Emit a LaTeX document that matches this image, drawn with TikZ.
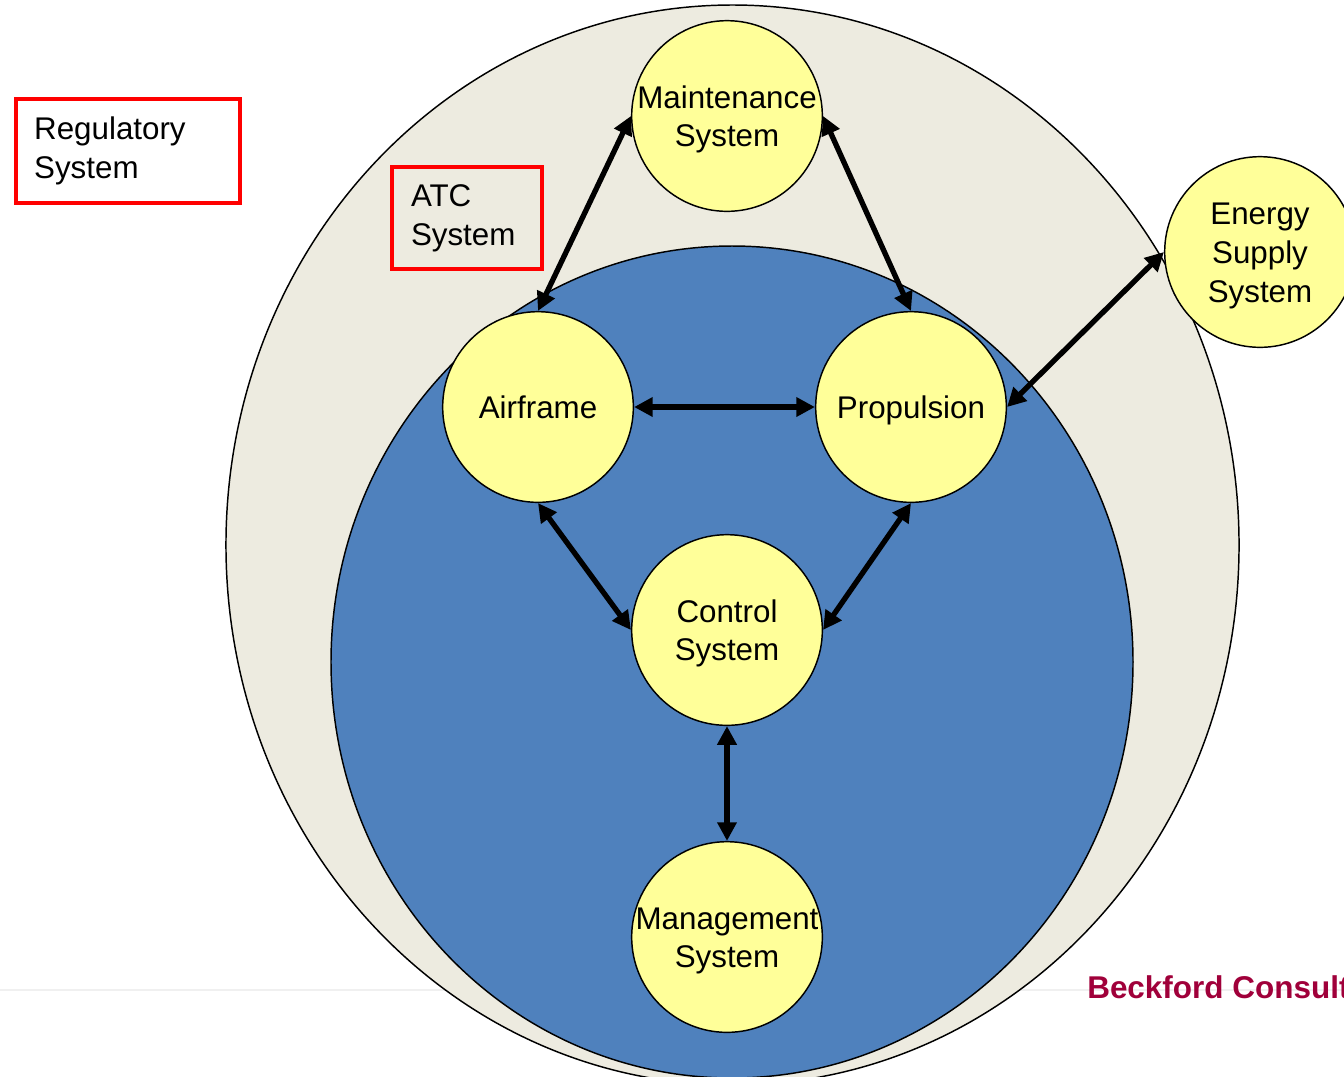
\documentclass[tikz,border=0pt]{standalone}
\usepackage{fontspec}
\setmainfont{Liberation Sans}
\usetikzlibrary{arrows.meta}
\definecolor{shellfill}{HTML}{EDEBE0}
\definecolor{corefill}{HTML}{4F81BD}
\definecolor{sysfill}{HTML}{FFFF99}
\definecolor{brandred}{HTML}{A0003A}
\definecolor{rulegray}{HTML}{F0F0F0}
% centred caption in a zero-size box, so every circle keeps the same size
\newcommand{\syslines}[1]{\raisebox{-9pt}[0pt][0pt]{\makebox[0pt]{\begin{tabular}{@{}c@{}}#1\end{tabular}}}}
\tikzset{
  sysnode/.style={circle, draw=black, line width=1.1pt, fill=sysfill,
    minimum size=143pt, inner sep=0pt,
    font=\fontsize{23.5}{29}\selectfont},
  labelbox/.style={draw=red, line width=3pt, align=left, inner ysep=0pt,
    font=\fontsize{23.5}{29}\selectfont},
  link/.style={{Triangle[length=14pt,width=14pt]}-{Triangle[length=14pt,width=14pt]},
    line width=4pt, black},
}
\begin{document}
\begin{tikzpicture}[x=0.75pt,y=-0.75pt]
  \useasboundingbox (0,0) rectangle (1344,1076);
  \clip (0,0) rectangle (1344,1076);

  % footer rule
  \draw[rulegray, line width=1.5pt] (0,990) -- (1344,990);

  % environment and vehicle boundaries
  \draw[fill=shellfill, line width=1.1pt] (732.5,545) ellipse [x radius=379.9pt, y radius=405pt];
  \draw[fill=corefill, line width=1.1pt] (732,662) ellipse [x radius=300.75pt, y radius=312pt];

  % outside systems
  \node[labelbox, text width=140pt, minimum height=78pt, inner xsep=14pt] (reg) at (127.5,151) {Regulatory\\System};
  \node[labelbox, text width=84pt, minimum height=77pt, inner xsep=14pt] (atc) at (467,218) {ATC\\System};

  % subsystems
  \node[sysnode] (maint) at (727,116) {\syslines{Maintenance\\System}};
  \node[sysnode] (air) at (538,407) {\syslines{Airframe}};
  \node[sysnode] (prop) at (911,407) {\syslines{Propulsion}};
  \node[sysnode] (ctrl) at (727,630) {\syslines{Control\\System}};
  \node[sysnode] (mgmt) at (727,937) {\syslines{Management\\System}};
  \node[sysnode] (energy) at (1260,252) {\syslines{Energy\\Supply\\System}};

  % interfaces
  \draw[link] (maint.west) -- (air.north);
  \draw[link] (maint.east) -- (prop.north);
  \draw[link] (air.east) -- (prop.west);
  \draw[link] (energy.west) -- (prop.east);
  \draw[link] (air.south) -- (ctrl.west);
  \draw[link] (prop.south) -- (ctrl.east);
  \draw[link] (ctrl.south) -- (mgmt.north);

  % footer
  \node[anchor=base west, text=brandred, font=\fontsize{23.6}{28}\selectfont\bfseries, inner sep=0pt] (brand) at (1087,998) {Beckford Consulting};
\end{tikzpicture}
\end{document}
